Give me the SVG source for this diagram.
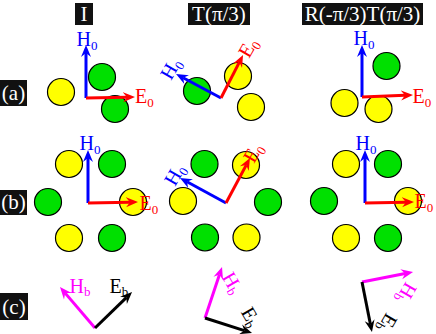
<svg xmlns="http://www.w3.org/2000/svg" width="436" height="334" viewBox="0 0 436 334">
<style>
.y{fill:#ffff00;stroke:#000;stroke-width:1.2}
.g{fill:#00e000;stroke:#000;stroke-width:1.2}
.box{fill:#111}
.hd{font-family:"Liberation Serif",serif;font-size:21px;fill:#fff;text-anchor:middle}
.t{font-family:"Liberation Serif",serif;font-size:20px}
.s{font-size:13px}
.lb{stroke:#0000ff;stroke-width:3;fill:none;marker-end:url(#mb)}
.lr{stroke:#ff0000;stroke-width:3;fill:none;marker-end:url(#mr)}
.lm{stroke:#ff00ff;stroke-width:3;fill:none;marker-end:url(#mm)}
.lk{stroke:#000;stroke-width:3;fill:none;marker-end:url(#mk)}
.cb{fill:#0000ff}.cr{fill:#ff0000}.cm{fill:#ff00ff}.ck{fill:#000}
</style>
<defs>
<marker id="mb" markerUnits="userSpaceOnUse" viewBox="0 0 14 12" markerWidth="14" markerHeight="12" refX="4" refY="6" orient="auto"><path d="M0,1 L12,6 L0,11 L4,6 Z" fill="#0000ff"/></marker>
<marker id="mr" markerUnits="userSpaceOnUse" viewBox="0 0 14 12" markerWidth="14" markerHeight="12" refX="4" refY="6" orient="auto"><path d="M0,1 L12,6 L0,11 L4,6 Z" fill="#ff0000"/></marker>
<marker id="mm" markerUnits="userSpaceOnUse" viewBox="0 0 14 12" markerWidth="14" markerHeight="12" refX="4" refY="6" orient="auto"><path d="M0,1 L12,6 L0,11 L4,6 Z" fill="#ff00ff"/></marker>
<marker id="mk" markerUnits="userSpaceOnUse" viewBox="0 0 14 12" markerWidth="14" markerHeight="12" refX="4" refY="6" orient="auto"><path d="M0,1 L12,6 L0,11 L4,6 Z" fill="#000"/></marker>
</defs>
<rect width="436" height="334" fill="#fff"/>

<g id="headers">
<g id="hdr-I"><rect class="box" x="75" y="3" width="18" height="22"/><text class="hd" x="84" y="21">I</text></g>
<g id="hdr-T"><rect class="box" x="188" y="3" width="62" height="22"/><text class="hd" x="219" y="21">T(π/3)</text></g>
<g id="hdr-RT"><rect class="box" x="302" y="3" width="121" height="22"/><text class="hd" x="362.5" y="21">R(-π/3)T(π/3)</text></g>
</g>
<g id="rowlabels">
<g id="lab-a"><rect class="box" x="0" y="80" width="27" height="26"/><text class="hd" x="13.5" y="100">(a)</text></g>
<g id="lab-b"><rect class="box" x="0" y="190" width="27" height="25"/><text class="hd" x="13.5" y="209">(b)</text></g>
<g id="lab-c"><rect class="box" x="0" y="293" width="28" height="27"/><text class="hd" x="14" y="314">(c)</text></g>
</g>

<g id="a1">
<circle class="y" cx="61" cy="92" r="13.5"/><circle class="g" cx="102" cy="77" r="13.5"/><circle class="g" cx="115" cy="109" r="13.5"/>
</g>
<g id="a2">
<circle class="g" cx="197" cy="91" r="13.5"/><circle class="y" cx="238" cy="76" r="13.5"/><circle class="y" cx="251" cy="107" r="13.5"/>
</g>
<g id="a3">
<circle class="g" cx="386.5" cy="66" r="13.5"/><circle class="y" cx="344.5" cy="103" r="13.5"/><circle class="y" cx="378.5" cy="109" r="13.5"/>
</g>
<g id="b1">
<circle class="y" cx="69" cy="164" r="13.5"/><circle class="g" cx="112" cy="164" r="13.5"/><circle class="g" cx="48" cy="202" r="13.5"/><circle class="y" cx="133" cy="202" r="13.5"/><circle class="y" cx="69" cy="238" r="13.5"/><circle class="g" cx="112" cy="238" r="13.5"/>
</g>
<g id="b2">
<circle class="g" cx="204.5" cy="164" r="13.5"/><circle class="y" cx="246" cy="165" r="13.5"/><circle class="y" cx="183" cy="201" r="13.5"/><circle class="g" cx="268" cy="202" r="13.5"/><circle class="g" cx="205" cy="237.5" r="13.5"/><circle class="y" cx="246.5" cy="237.5" r="13.5"/>
</g>
<g id="b3">
<circle class="y" cx="346" cy="164" r="13.5"/><circle class="g" cx="388" cy="164" r="13.5"/><circle class="g" cx="324" cy="201" r="13.5"/><circle class="y" cx="408" cy="201" r="13.5"/><circle class="y" cx="346" cy="238" r="13.5"/><circle class="g" cx="388" cy="238" r="13.5"/>
</g>

<g id="connectors">
<path class="lb" d="M86,98 L86,53"/>
<path class="lr" d="M86,98 L127,97.2"/>
<path class="lb" d="M221,98 L183.1,77.8"/>
<path class="lr" d="M221,98 L239.4,62.1"/>
<path class="lb" d="M362,97 L362,53"/>
<path class="lr" d="M362,97 L405,95.3"/>
<path class="lb" d="M88,203 L88,158"/>
<path class="lr" d="M88,203 L130,202.2"/>
<path class="lb" d="M226,203 L187,181.8"/>
<path class="lr" d="M226,203 L246.2,165.1"/>
<path class="lb" d="M365,203 L365,158"/>
<path class="lr" d="M365,203 L406,202.2"/>
<path class="lm" d="M95,328 L65.2,293.1"/>
<path class="lk" d="M95,328 L126.3,297.6"/>
<path class="lm" d="M205,318 L219.5,274.6"/>
<path class="lk" d="M205,318 L244.4,330.6"/>
<path class="lm" d="M362,282 L405.2,273.5"/>
<path class="lk" d="M362,282 L370.4,324.2"/>
</g>

<g id="labels">
<text class="t cb" x="76.5" y="46">H<tspan class="s" dy="4">0</tspan></text>
<text class="t cr" x="135" y="103">E<tspan class="s" dy="4">0</tspan></text>
<text class="t cb" transform="translate(171,81) rotate(-60)">H<tspan class="s" dy="4">0</tspan></text>
<text class="t cr" transform="translate(249,59) rotate(-60)">E<tspan class="s" dy="4">0</tspan></text>
<text class="t cb" x="353.5" y="45">H<tspan class="s" dy="4">0</tspan></text>
<text class="t cr" x="412.5" y="103">E<tspan class="s" dy="4">0</tspan></text>

<text class="t cb" x="79.5" y="150">H<tspan class="s" dy="4">0</tspan></text>
<text class="t cr" x="139.5" y="210">E<tspan class="s" dy="4">0</tspan></text>
<text class="t cb" transform="translate(175,187) rotate(-60)">H<tspan class="s" dy="4">0</tspan></text>
<text class="t cr" transform="translate(254,164) rotate(-60)">E<tspan class="s" dy="4">0</tspan></text>
<text class="t cb" x="355.5" y="150">H<tspan class="s" dy="4">0</tspan></text>
<text class="t cr" x="414.5" y="208">E<tspan class="s" dy="4">0</tspan></text>

<text class="t cm" x="69.5" y="293">H<tspan class="s" dy="3">b</tspan></text>
<text class="t ck" x="109.5" y="293">E<tspan class="s" dy="3">b</tspan></text>
<text class="t cm" transform="translate(221.5,277) rotate(60)">H<tspan class="s" dy="3">b</tspan></text>
<text class="t ck" transform="translate(240.5,312) rotate(60)">E<tspan class="s" dy="3">b</tspan></text>
<text class="t cm" transform="translate(406,281) rotate(120)">H<tspan class="s" dy="3">b</tspan></text>
<text class="t ck" transform="translate(386.5,312) rotate(120)">E<tspan class="s" dy="3">b</tspan></text>
</g>
</svg>
